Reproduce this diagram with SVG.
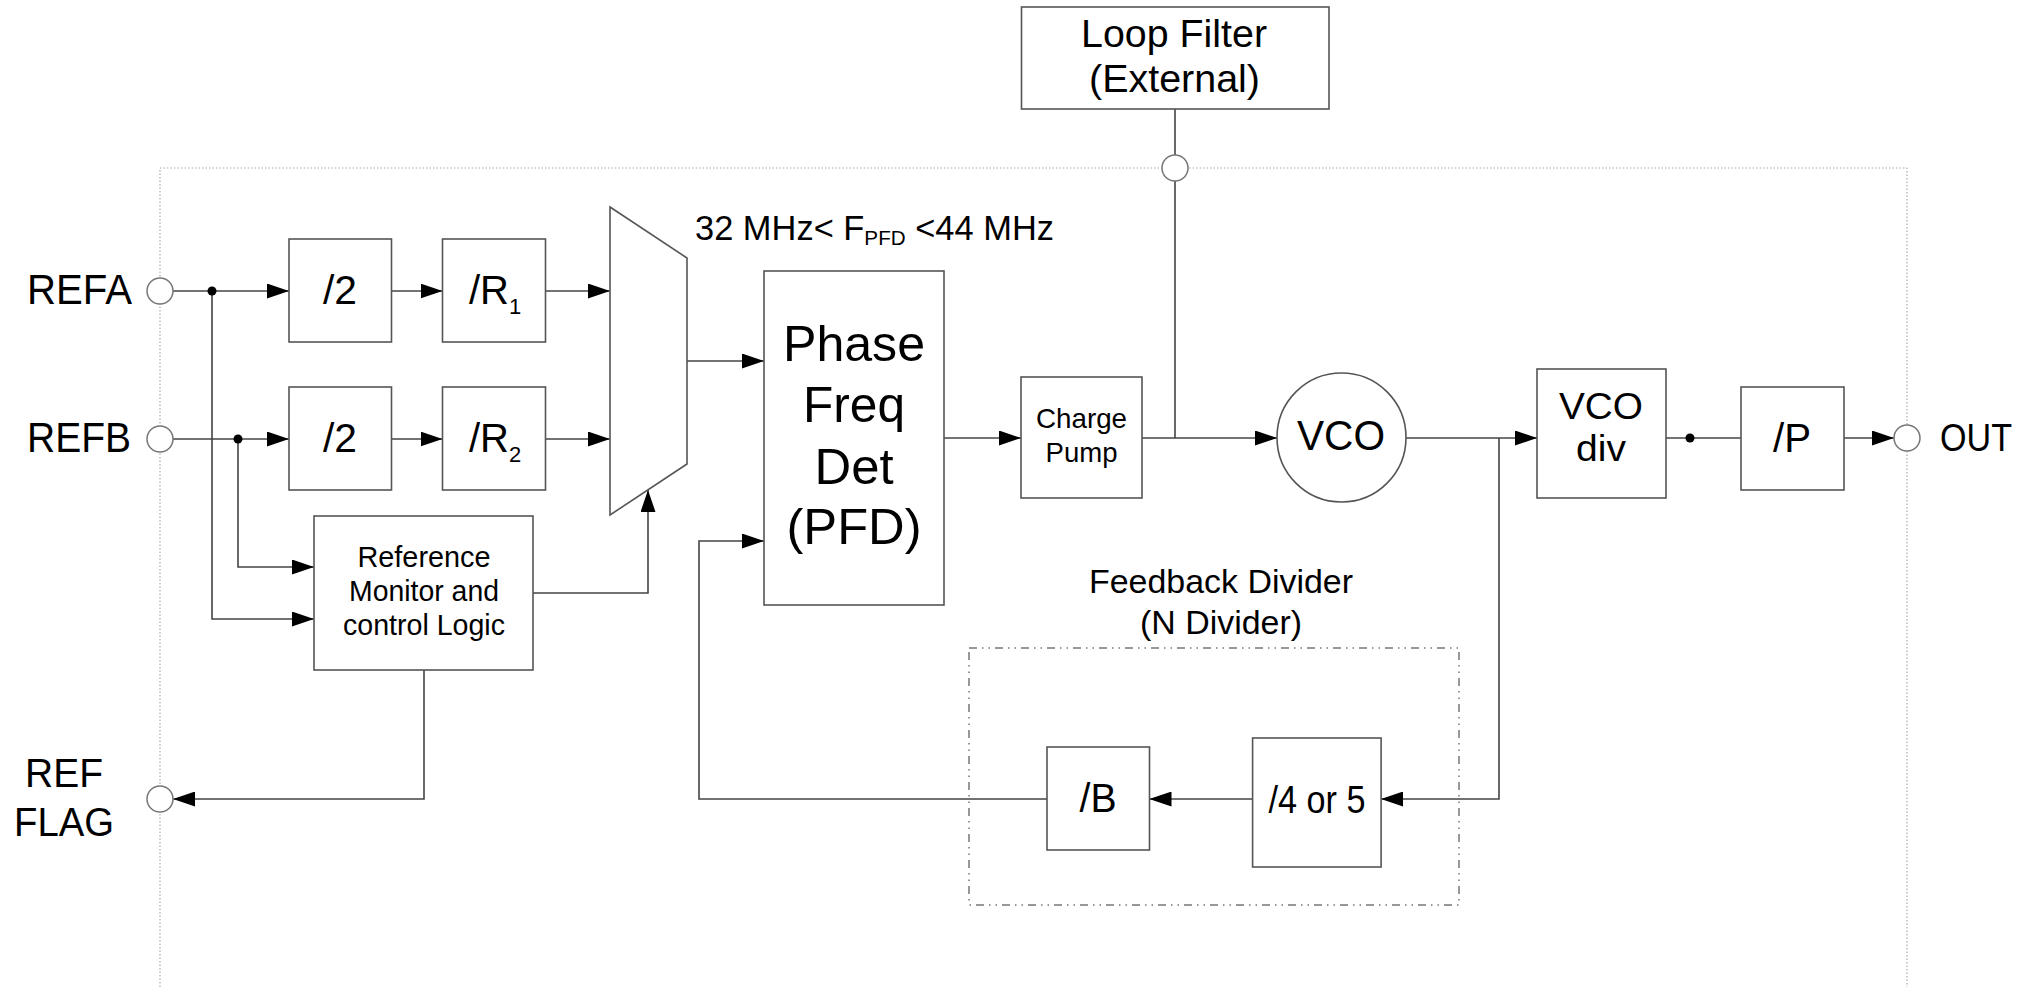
<svg xmlns="http://www.w3.org/2000/svg" width="2025" height="987" viewBox="0 0 2025 987">
<defs>
<style>
.box{fill:#fff;stroke:#555;stroke-width:1.6}
.pin{fill:#fff;stroke:#777;stroke-width:1.5}
.wire{fill:none;stroke:#444;stroke-width:1.6}
.t{font-family:"Liberation Sans",Arial,sans-serif;fill:#000}
.m{text-anchor:middle}
</style>
<marker id="ah" markerWidth="22" markerHeight="15" refX="22" refY="7.5" orient="auto" markerUnits="userSpaceOnUse">
<path d="M0,0 L22,7.5 L0,15 z" fill="#000"/>
</marker>
</defs>
<rect width="2025" height="987" fill="#fff"/>

<path id="chip-border" d="M160,987 V168 H1907 V987" fill="none" stroke="#aaa" stroke-width="1.2" stroke-dasharray="1.5,2"/>

<g id="n-divider-group">
<rect x="969" y="648" width="490" height="257" fill="none" stroke="#777" stroke-width="1.5" stroke-dasharray="8,5,1.5,5,1.5,5"/>
<text class="t m" x="1221" y="593" font-size="34" textLength="264" lengthAdjust="spacingAndGlyphs">Feedback Divider</text>
<text class="t m" x="1221" y="634" font-size="34" textLength="162" lengthAdjust="spacingAndGlyphs">(N Divider)</text>
</g>

<g id="connectors">
<path class="wire" d="M173,291 H289" marker-end="url(#ah)"/>
<path class="wire" d="M391.5,291 H442.5" marker-end="url(#ah)"/>
<path class="wire" d="M545.5,291 H610" marker-end="url(#ah)"/>
<path class="wire" d="M173,439 H289" marker-end="url(#ah)"/>
<path class="wire" d="M391.5,439 H442.5" marker-end="url(#ah)"/>
<path class="wire" d="M545.5,439 H610" marker-end="url(#ah)"/>
<path class="wire" d="M212,291 V619 H314" marker-end="url(#ah)"/>
<path class="wire" d="M238,439 V567 H314" marker-end="url(#ah)"/>
<path class="wire" d="M533,593 H648 V490" marker-end="url(#ah)"/>
<path class="wire" d="M424,670 V799 H173" marker-end="url(#ah)"/>
<path class="wire" d="M687,361 H764" marker-end="url(#ah)"/>
<path class="wire" d="M944,438 H1021" marker-end="url(#ah)"/>
<path class="wire" d="M1142,438 H1277" marker-end="url(#ah)"/>
<path class="wire" d="M1175,109 V155 M1175,181 V438"/>
<path class="wire" d="M1406,438 H1537" marker-end="url(#ah)"/>
<path class="wire" d="M1499,438 V799 H1381" marker-end="url(#ah)"/>
<path class="wire" d="M1252.6,799 H1149.5" marker-end="url(#ah)"/>
<path class="wire" d="M1047,799 H699 V541 H764" marker-end="url(#ah)"/>
<path class="wire" d="M1666,438 H1741"/>
<path class="wire" d="M1844,438 H1894" marker-end="url(#ah)"/>
<circle cx="212" cy="291" r="4.5" fill="#000"/>
<circle cx="238" cy="439" r="4.5" fill="#000"/>
<circle cx="1690" cy="438" r="4.5" fill="#000"/>
</g>

<g id="pin-refa">
<circle class="pin" cx="160" cy="291" r="13"/>
<text class="t" x="27" y="304" font-size="42" textLength="105" lengthAdjust="spacingAndGlyphs">REFA</text>
</g>
<g id="pin-refb">
<circle class="pin" cx="160" cy="439" r="13"/>
<text class="t" x="27" y="452" font-size="42" textLength="104" lengthAdjust="spacingAndGlyphs">REFB</text>
</g>
<g id="pin-refflag">
<circle class="pin" cx="160" cy="799" r="13"/>
<text class="t m" x="64" y="787" font-size="41" textLength="78" lengthAdjust="spacingAndGlyphs">REF</text>
<text class="t m" x="64" y="836" font-size="41" textLength="100" lengthAdjust="spacingAndGlyphs">FLAG</text>
</g>
<g id="pin-out">
<circle class="pin" cx="1907" cy="438" r="13"/>
<text class="t" x="1940" y="451" font-size="38" textLength="72" lengthAdjust="spacingAndGlyphs">OUT</text>
</g>
<g id="pin-lf">
<circle class="pin" cx="1175" cy="168" r="13"/>
</g>

<g id="div2-a">
<rect class="box" x="289" y="239" width="102.5" height="103"/>
<text class="t m" x="340" y="304" font-size="40" textLength="34" lengthAdjust="spacingAndGlyphs">/2</text>
</g>
<g id="divR1">
<rect class="box" x="442.5" y="239" width="103" height="103"/>
<text class="t" x="469" y="304" font-size="40">/R<tspan font-size="22" dy="10">1</tspan></text>
</g>
<g id="div2-b">
<rect class="box" x="289" y="387" width="102.5" height="103"/>
<text class="t m" x="340" y="452" font-size="40" textLength="34" lengthAdjust="spacingAndGlyphs">/2</text>
</g>
<g id="divR2">
<rect class="box" x="442.5" y="387" width="103" height="103"/>
<text class="t" x="469" y="452" font-size="40">/R<tspan font-size="22" dy="10">2</tspan></text>
</g>

<g id="mux">
<polygon class="box" points="610,207 687,258 687,464 610,515"/>
</g>

<g id="ref-monitor">
<rect class="box" x="314" y="516" width="219" height="154"/>
<text class="t m" x="424" y="567" font-size="29" textLength="133" lengthAdjust="spacingAndGlyphs">Reference</text>
<text class="t m" x="424" y="601" font-size="29" textLength="150" lengthAdjust="spacingAndGlyphs">Monitor and</text>
<text class="t m" x="424" y="635" font-size="29" textLength="162" lengthAdjust="spacingAndGlyphs">control Logic</text>
</g>

<g id="fpfd-label">
<text class="t" x="695" y="240" font-size="35" textLength="359" lengthAdjust="spacingAndGlyphs">32 MHz&lt; F<tspan font-size="21" dy="5">PFD</tspan><tspan dy="-5"> &lt;44 MHz</tspan></text>
</g>

<g id="pfd">
<rect class="box" x="764" y="271" width="180" height="334"/>
<text class="t m" x="854" y="361" font-size="50" textLength="142" lengthAdjust="spacingAndGlyphs">Phase</text>
<text class="t m" x="854" y="422" font-size="50" textLength="102" lengthAdjust="spacingAndGlyphs">Freq</text>
<text class="t m" x="854" y="484" font-size="50" textLength="79" lengthAdjust="spacingAndGlyphs">Det</text>
<text class="t m" x="854" y="544" font-size="50" textLength="135" lengthAdjust="spacingAndGlyphs">(PFD)</text>
</g>

<g id="charge-pump">
<rect class="box" x="1021" y="377" width="121" height="121"/>
<text class="t m" x="1081.5" y="428" font-size="28" textLength="91" lengthAdjust="spacingAndGlyphs">Charge</text>
<text class="t m" x="1081.5" y="462" font-size="28" textLength="72" lengthAdjust="spacingAndGlyphs">Pump</text>
</g>

<g id="loop-filter">
<rect class="box" x="1021.5" y="7" width="307.5" height="102"/>
<text class="t m" x="1174" y="47" font-size="38" textLength="186" lengthAdjust="spacingAndGlyphs">Loop Filter</text>
<text class="t m" x="1174.5" y="92" font-size="38" textLength="171" lengthAdjust="spacingAndGlyphs">(External)</text>
</g>

<g id="vco">
<circle class="box" cx="1341.5" cy="437.5" r="64.5"/>
<text class="t m" x="1341" y="450" font-size="42" textLength="88" lengthAdjust="spacingAndGlyphs">VCO</text>
</g>

<g id="vco-div">
<rect class="box" x="1537" y="369" width="129" height="129"/>
<text class="t m" x="1601" y="419" font-size="36" textLength="84" lengthAdjust="spacingAndGlyphs">VCO</text>
<text class="t m" x="1601" y="461" font-size="36" textLength="50" lengthAdjust="spacingAndGlyphs">div</text>
</g>

<g id="div-p">
<rect class="box" x="1741" y="387" width="103" height="103"/>
<text class="t m" x="1792" y="452" font-size="40" textLength="38" lengthAdjust="spacingAndGlyphs">/P</text>
</g>

<g id="div-b">
<rect class="box" x="1047" y="747" width="102.5" height="103"/>
<text class="t m" x="1098" y="812" font-size="40" textLength="37" lengthAdjust="spacingAndGlyphs">/B</text>
</g>

<g id="div-4or5">
<rect class="box" x="1252.6" y="738" width="128.5" height="129"/>
<text class="t m" x="1317" y="813" font-size="39" textLength="97" lengthAdjust="spacingAndGlyphs">/4 or 5</text>
</g>
</svg>
